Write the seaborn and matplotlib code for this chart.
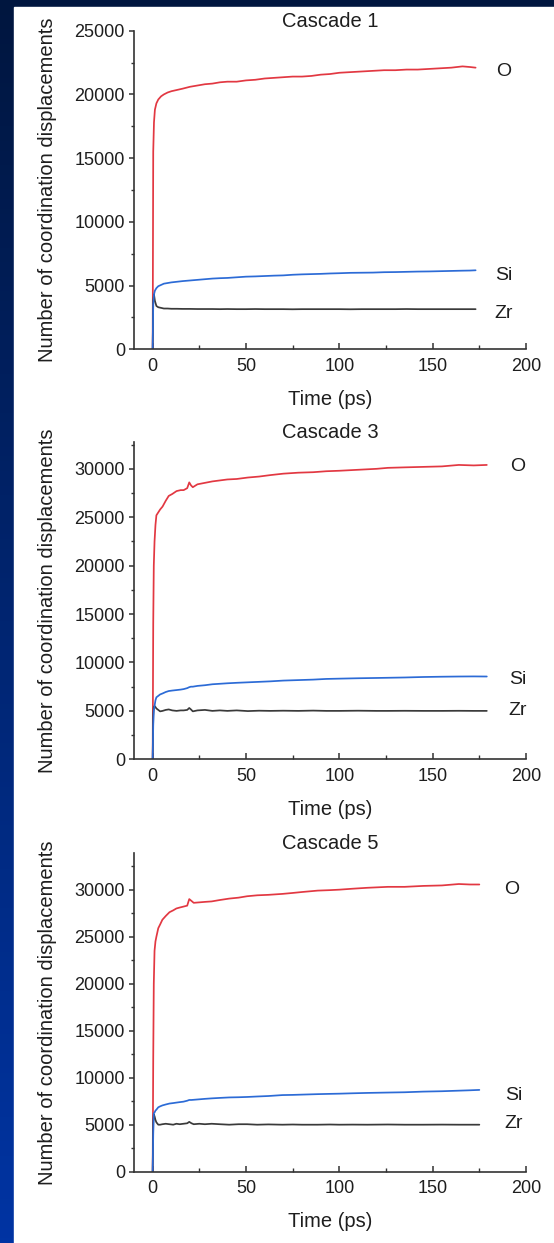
import numpy as np
import pandas as pd
import matplotlib
matplotlib.use("Agg")
import matplotlib.pyplot as plt
import seaborn as sns
from matplotlib.ticker import MultipleLocator
from matplotlib.colors import LinearSegmentedColormap

# ---------------- data ----------------
cascade_titles = ["Cascade 1", "Cascade 3", "Cascade 5"]
elements = ["O", "Zr", "Si"]

t1 = [0, 0.3, 0.7, 1.2, 2, 3, 4.5, 6, 8, 10, 13, 16, 20, 24, 28, 32, 36, 40, 45, 50,
      55, 60, 65, 70, 75, 80, 85, 90, 95, 100, 106, 112, 118, 124, 130, 136, 142, 148,
      154, 160, 166, 170, 173]
o1 = [0, 15500, 17800, 18800, 19300, 19600, 19850, 20000, 20150, 20250, 20350, 20450,
      20600, 20700, 20800, 20850, 20950, 21000, 21000, 21100, 21150, 21250, 21300, 21350,
      21400, 21400, 21450, 21550, 21600, 21700, 21750, 21800, 21850, 21900, 21900, 21950,
      21950, 22000, 22050, 22100, 22200, 22150, 22100]
si1 = [0, 3500, 4300, 4600, 4800, 4950, 5050, 5150, 5200, 5250, 5300, 5350, 5400, 5450,
       5500, 5550, 5580, 5600, 5650, 5700, 5720, 5750, 5780, 5800, 5850, 5880, 5900, 5920,
       5950, 5970, 6000, 6010, 6020, 6050, 6060, 6080, 6100, 6110, 6130, 6150, 6170, 6180,
       6200]
zr1 = [0, 3800, 4300, 3800, 3400, 3300, 3250, 3200, 3200, 3180, 3180, 3170, 3170, 3160,
       3160, 3160, 3150, 3160, 3150, 3150, 3160, 3150, 3150, 3150, 3140, 3150, 3150, 3150,
       3150, 3150, 3140, 3150, 3150, 3150, 3150, 3160, 3150, 3150, 3150, 3150, 3150, 3150,
       3150]

t3 = [0, 0.3, 0.6, 1, 1.5, 2, 3, 4, 5.3, 7, 8.6, 10.5, 12.8, 15, 16.6, 18.5, 19.6, 20.5,
      21.5, 24, 28, 32, 36, 40, 45, 51, 57, 63, 70, 78, 86, 93, 100, 110, 120, 126, 135,
      145, 155, 164, 172, 179]
o3 = [0, 14000, 20000, 22500, 24200, 25200, 25500, 25800, 26100, 26700, 27200, 27400,
      27700, 27800, 27800, 28000, 28600, 28300, 28100, 28400, 28550, 28700, 28800, 28900,
      28950, 29100, 29200, 29350, 29500, 29600, 29650, 29750, 29800, 29900, 30000, 30100,
      30150, 30200, 30250, 30400, 30350, 30400]
si3 = [0, 3500, 5000, 5500, 6100, 6400, 6550, 6700, 6800, 6950, 7050, 7100, 7150, 7200,
       7250, 7350, 7450, 7500, 7500, 7580, 7650, 7750, 7800, 7850, 7900, 7950, 8000, 8050,
       8130, 8180, 8230, 8300, 8330, 8370, 8400, 8420, 8450, 8500, 8530, 8550, 8560, 8550]
zr3 = [0, 4500, 5400, 5500, 5400, 5250, 5100, 4950, 5000, 5100, 5150, 5050, 5000, 5050,
       5050, 5100, 5300, 5150, 4950, 5050, 5100, 5000, 5050, 5000, 5050, 4980, 5020, 5000,
       5020, 5000, 5030, 5000, 5000, 5020, 5000, 5000, 5010, 5000, 5000, 5010, 5000, 5000]

t5 = [0, 0.3, 0.6, 1, 1.5, 2, 3, 4, 5.2, 7, 9, 11, 12.7, 14.5, 16.5, 18.5, 19.6, 20.8,
      22, 25, 28, 31.6, 36, 41, 46, 50.6, 56, 62, 69.5, 75, 80, 88.4, 95, 100, 107, 115,
      126, 135, 145, 155, 164, 170, 175]
o5 = [0, 12000, 20000, 23500, 24500, 25000, 25900, 26300, 26800, 27200, 27600, 27800,
      28000, 28100, 28200, 28300, 29000, 28800, 28600, 28650, 28700, 28750, 28900, 29050,
      29150, 29300, 29400, 29450, 29550, 29650, 29750, 29900, 29950, 30000, 30100, 30200,
      30300, 30300, 30400, 30450, 30600, 30550, 30550]
si5 = [0, 4000, 6200, 6300, 6500, 6600, 6850, 6950, 7050, 7150, 7250, 7300, 7350, 7400,
       7450, 7550, 7630, 7630, 7650, 7700, 7750, 7800, 7850, 7900, 7920, 7950, 8000, 8050,
       8150, 8170, 8200, 8250, 8280, 8300, 8340, 8380, 8420, 8450, 8520, 8560, 8620, 8660,
       8700]
zr5 = [0, 5200, 6100, 5900, 5500, 5250, 5000, 5000, 5050, 5100, 5050, 5000, 5100, 5050,
       5100, 5150, 5300, 5150, 5050, 5100, 5050, 5100, 5050, 5000, 5050, 5050, 5000, 5030,
       5000, 5020, 5000, 5000, 5020, 5000, 5010, 5000, 5020, 5000, 5000, 5010, 5000, 5000,
       5000]

times = [t1, t3, t5]
series = [{"O": o1, "Si": si1, "Zr": zr1},
          {"O": o3, "Si": si3, "Zr": zr3},
          {"O": o5, "Si": si5, "Zr": zr5}]
y_limits = [25000, 32800, 33900]
label_pos = [
    {"O": (188, 21800), "Si": (188, 5800), "Zr": (188, 2800)},
    {"O": (195.5, 30250), "Si": (195.5, 8250), "Zr": (195.5, 5050)},
    {"O": (192.5, 30000), "Si": (193.5, 8150), "Zr": (193.5, 5100)},
]
x_ticks = [0, 50, 100, 150, 200]

# ---------------- style ----------------
sns.set_theme(style="white")
plt.rcParams["font.family"] = ["Liberation Sans", "DejaVu Sans"]
palette = {"O": "#e23842", "Si": "#2c6bd6", "Zr": "#3a3a3a"}
txt_col = "#1e1e1e"
ax_col = "#333333"

W, H = 554, 1243
fig = plt.figure(figsize=(W / 100, H / 100), dpi=100)

# background gradient and white panel
bg = fig.add_axes([0, 0, 1, 1], zorder=-10)
grad = np.linspace(0, 1, 256).reshape(-1, 1)
cmap = LinearSegmentedColormap.from_list("bg", ["#00163f", "#0034a3"])
bg.imshow(grad, aspect="auto", cmap=cmap, extent=[0, 1, 0, 1], origin="upper")
bg.add_patch(plt.Rectangle((14 / W, 0), 1 - 14 / W, 1 - 7 / H, color="white",
                           transform=bg.transAxes))
bg.set_xlim(0, 1)
bg.set_ylim(0, 1)
bg.axis("off")

# axes rectangles in pixel coordinates (left, top, right, bottom)
rects = [(134, 30.7, 526, 349.3), (134, 441.7, 526, 759.3), (134, 853, 526, 1171.7)]

for i, (l, t, r, b) in enumerate(rects):
    ax = fig.add_axes([l / W, 1 - b / H, (r - l) / W, (b - t) / H])
    ax.patch.set_alpha(0)
    rows = []
    for el in elements:
        for tt, vv in zip(times[i], series[i][el]):
            rows.append({"time": tt, "count": vv, "element": el})
    df = pd.DataFrame(rows)
    sns.lineplot(data=df, x="time", y="count", hue="element", hue_order=elements,
                 palette=palette, estimator=None, sort=False, linewidth=1.25,
                 legend=False, ax=ax)
    ax.set_xlim(-10, 200)
    ax.set_ylim(0, y_limits[i])
    ax.set_xticks(x_ticks)
    ax.xaxis.set_minor_locator(MultipleLocator(25))
    ax.yaxis.set_major_locator(MultipleLocator(5000))
    ax.yaxis.set_minor_locator(MultipleLocator(2500))
    for s in ["top", "right"]:
        ax.spines[s].set_visible(False)
    for s in ["left", "bottom"]:
        ax.spines[s].set_color(ax_col)
        ax.spines[s].set_linewidth(1.2)
    ax.tick_params(axis="y", which="major", direction="out", length=3.5, width=1.1,
                   color=ax_col, labelsize=13, labelcolor=txt_col, pad=3, left=True)
    ax.tick_params(axis="y", which="minor", direction="out", length=2.5, width=1.0,
                   color=ax_col, left=True)
    ax.tick_params(axis="x", which="major", direction="in", length=4.5, width=1.1,
                   color=ax_col, labelsize=13, labelcolor=txt_col, pad=6, bottom=True)
    ax.tick_params(axis="x", which="minor", direction="in", length=3, width=1.0,
                   color=ax_col, bottom=True)
    ax.set_xlabel("Time (ps)", fontsize=14.5, color=txt_col)
    ax.set_ylabel("Number of coordination displacements", fontsize=14.5, color=txt_col)
    hpx = b - t
    ax.xaxis.set_label_coords(0.5 - 0 / (r - l), -50 / hpx)
    ax.xaxis.label.set_va("center")
    ax.yaxis.set_label_coords((48 - l) / (r - l), 0.5)
    ax.yaxis.label.set_va("center")
    ax.set_title(cascade_titles[i], fontsize=14.5, color=txt_col, pad=-1.5)
    for el in ["O", "Si", "Zr"]:
        x, y = label_pos[i][el]
        ax.text(x, y, el, fontsize=14, color=txt_col, ha="center", va="center")

fig.savefig("out.png", dpi=100)
